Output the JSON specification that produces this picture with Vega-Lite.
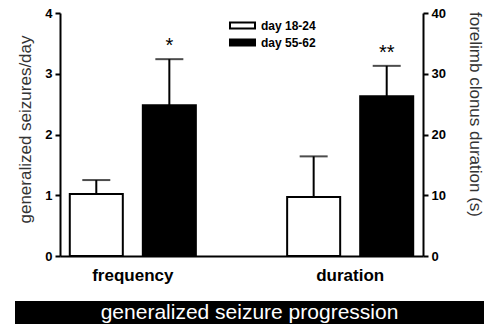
{
  "$schema": "https://vega.github.io/schema/vega-lite/v6.json",
  "padding": {"left": 15, "top": 7, "right": 0, "bottom": 0},
  "spacing": 18,
  "config": {
    "view": {"stroke": null},
    "font": "Liberation Sans",
    "axis": {"grid": false, "domainColor": "black", "domainWidth": 2, "tickColor": "black", "tickWidth": 2, "labelColor": "black"}
  },
  "datasets": {
    "freq": [
      {"measure": "frequency", "period": "day 18-24", "mean": 1.02, "hi": 1.25, "sig": ""},
      {"measure": "frequency", "period": "day 55-62", "mean": 2.48, "hi": 3.24, "sig": "*"}
    ],
    "dur": [
      {"measure": "duration", "period": "day 18-24", "mean": 9.7, "hi": 16.4, "sig": ""},
      {"measure": "duration", "period": "day 55-62", "mean": 26.3, "hi": 31.3, "sig": "**"}
    ],
    "band": [{"label": "generalized seizure progression"}]
  },
  "vconcat": [
    {
      "width": 469,
      "height": 243,
      "encoding": {
        "x": {"field": "measure", "type": "nominal",
          "scale": {"type": "band", "domain": ["frequency", "duration"], "range": [45, 408], "paddingInner": 0.42, "paddingOuter": 0.045},
          "axis": {"orient": "bottom", "title": null, "ticks": false, "labelAngle": 0, "labelFontSize": 17, "labelFontWeight": "bold", "labelPadding": 11}},
        "xOffset": {"field": "period", "type": "nominal", "scale": {"domain": ["day 18-24", "day 55-62"], "paddingInner": 0.274, "paddingOuter": 0}}
      },
      "layer": [
        {
          "data": {"name": "freq"},
          "layer": [
            {
              "mark": {"type": "bar", "stroke": "black", "strokeWidth": 2},
              "encoding": {
                "y": {"field": "mean", "type": "quantitative", "scale": {"domain": [0, 4], "nice": false},
                  "title": "generalized seizures/day",
                  "axis": {"orient": "left", "offset": -45, "values": [0, 0.5, 1, 1.5, 2, 2.5, 3, 3.5, 4],
                    "labelExpr": "datum.value % 1 === 0 ? '' + datum.value : ''",
                    "tickSize": 5, "labelPadding": 3, "labelFontSize": 13, "labelFontWeight": "bold",
                    "titleFontSize": 17, "titleFontWeight": "normal", "titleColor": "#333333", "titlePadding": 10, "titleY": 116}},
                "fill": {"field": "period", "type": "nominal",
                  "scale": {"domain": ["day 18-24", "day 55-62"], "range": ["white", "black"]},
                  "legend": {"title": null, "orient": "none", "legendX": 218, "legendY": 3, "padding": 0,
                    "symbolType": "M-1.5,-0.35H1.5V0.35H-1.5Z", "symbolSize": 278, "symbolStrokeColor": "black", "symbolStrokeWidth": 2,
                    "labelFontSize": 12, "labelFontWeight": "bold", "labelColor": "black", "labelOffset": 9, "rowPadding": -1}}
              }
            },
            {
              "mark": {"type": "rule", "color": "black", "strokeWidth": 2},
              "encoding": {
                "y": {"field": "mean", "type": "quantitative", "scale": {"domain": [0, 4], "nice": false}, "title": "generalized seizures/day"},
                "y2": {"field": "hi"}
              }
            },
            {
              "mark": {"type": "tick", "color": "black", "size": 28, "thickness": 2, "orient": "horizontal"},
              "encoding": {
                "y": {"field": "hi", "type": "quantitative", "scale": {"domain": [0, 4], "nice": false}, "title": "generalized seizures/day"}
              }
            },
            {
              "mark": {"type": "text", "color": "black", "fontSize": 20, "baseline": "alphabetic", "dy": -7},
              "encoding": {
                "y": {"field": "hi", "type": "quantitative", "scale": {"domain": [0, 4], "nice": false}, "title": "generalized seizures/day"},
                "text": {"field": "sig"}
              }
            }
          ]
        },
        {
          "data": {"name": "dur"},
          "layer": [
            {
              "mark": {"type": "bar", "stroke": "black", "strokeWidth": 2},
              "encoding": {
                "y": {"field": "mean", "type": "quantitative", "scale": {"domain": [0, 40], "nice": false},
                  "title": "forelimb clonus duration (s)",
                  "axis": {"orient": "right", "offset": -61, "values": [0, 5, 10, 15, 20, 25, 30, 35, 40],
                    "labelExpr": "datum.value % 10 === 0 ? '' + datum.value : ''",
                    "tickSize": 5, "labelPadding": 3, "labelFontSize": 13, "labelFontWeight": "bold",
                    "titleFontSize": 17, "titleFontWeight": "normal", "titleColor": "#333333", "titlePadding": 20, "titleY": 101}},
                "fill": {"field": "period", "type": "nominal",
                  "scale": {"domain": ["day 18-24", "day 55-62"], "range": ["white", "black"]},
                  "legend": {"title": null, "orient": "none", "legendX": 218, "legendY": 3, "padding": 0,
                    "symbolType": "M-1.5,-0.35H1.5V0.35H-1.5Z", "symbolSize": 278, "symbolStrokeColor": "black", "symbolStrokeWidth": 2,
                    "labelFontSize": 12, "labelFontWeight": "bold", "labelColor": "black", "labelOffset": 9, "rowPadding": -1}}
              }
            },
            {
              "mark": {"type": "rule", "color": "black", "strokeWidth": 2},
              "encoding": {
                "y": {"field": "mean", "type": "quantitative", "scale": {"domain": [0, 40], "nice": false}, "title": "forelimb clonus duration (s)"},
                "y2": {"field": "hi"}
              }
            },
            {
              "mark": {"type": "tick", "color": "black", "size": 28, "thickness": 2, "orient": "horizontal"},
              "encoding": {
                "y": {"field": "hi", "type": "quantitative", "scale": {"domain": [0, 40], "nice": false}, "title": "forelimb clonus duration (s)"}
              }
            },
            {
              "mark": {"type": "text", "color": "black", "fontSize": 20, "baseline": "alphabetic", "dy": -7},
              "encoding": {
                "y": {"field": "hi", "type": "quantitative", "scale": {"domain": [0, 40], "nice": false}, "title": "forelimb clonus duration (s)"},
                "text": {"field": "sig"}
              }
            }
          ]
        }
      ],
      "resolve": {"scale": {"y": "independent"}, "axis": {"y": "independent"}}
    },
    {
      "width": 469,
      "height": 24,
      "data": {"name": "band"},
      "layer": [
        {"mark": {"type": "rect", "color": "black"}, "encoding": {}},
        {"mark": {"type": "text", "color": "white", "fontSize": 21}, "encoding": {"text": {"field": "label"}}}
      ]
    }
  ]
}
